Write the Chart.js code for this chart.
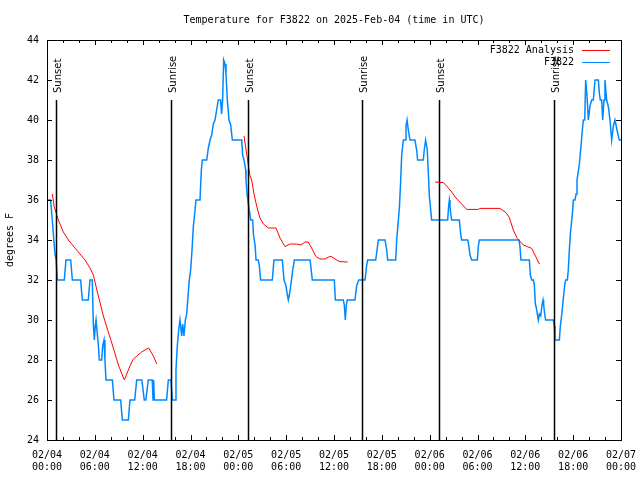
<!DOCTYPE html>
<html>
<head>
<meta charset="utf-8">
<script src="https://cdn.jsdelivr.net/npm/chart.js@4/dist/chart.umd.min.js"></script>
<style>
  html, body { margin: 0; padding: 0; background: #fff; }
  canvas { display: block; }
</style>
</head>
<body>
<canvas id="tempChart" width="640" height="480"></canvas>
<script>
// hours since 02/04 00:00 UTC
const obsHours = [0, 0.45, 0.6, 0.8, 1.0, 1.15, 1.3, 2.17, 2.38, 2.97, 3.18, 4.22, 4.43, 5.18, 5.39, 5.68, 5.81, 5.94, 6.05, 6.15,
  6.31, 6.44, 6.56, 6.86, 6.98, 7.15, 7.27, 7.4, 8.2, 8.4, 9.24, 9.45, 10.2, 10.41, 11.0, 11.25, 11.9, 12.2, 12.4, 12.7,
  13.2, 13.3, 13.38, 13.46, 15.0, 15.22, 15.55, 15.72, 16.06, 16.18, 16.35, 16.52, 16.68, 16.89, 17.02, 17.18, 17.35, 17.52, 17.69, 17.85,
  18.02, 18.19, 18.36, 18.52, 18.69, 19.19, 19.36, 19.49, 20.03, 20.24, 20.45, 20.66, 20.86, 21.07, 21.28, 21.49, 21.78, 21.9, 22.03, 22.16,
  22.33, 22.45, 22.62, 22.83, 23.04, 23.25, 24.42, 24.54, 24.71, 24.92, 24.96, 25.1, 25.25, 25.45, 25.55, 25.8, 25.89, 26.1, 26.22, 26.5,
  26.63, 26.8, 28.26, 28.47, 29.52, 29.73, 29.98, 30.15, 30.27, 30.4, 30.57, 30.82, 31.03, 33.0, 33.28, 36.04, 36.17, 37.17, 37.29, 37.42,
  37.54, 37.67, 38.63, 38.84, 39.1, 39.89, 40.1, 40.22, 41.23, 41.4, 41.56, 42.4, 42.61, 42.73, 43.74, 43.86, 43.99, 44.2, 44.37, 44.49,
  44.7, 44.91, 45.03, 45.16, 45.32, 45.53, 46.15, 46.37, 46.49, 47.2, 47.32, 47.49, 47.7, 47.87, 47.96, 48.13, 48.25, 50.26, 50.38, 50.47,
  50.55, 50.64, 50.76, 51.72, 51.89, 52.01, 52.77, 52.93, 53.06, 53.27, 53.98, 54.1, 54.23, 59.2, 59.33, 59.45, 60.5, 60.63, 60.8, 61.0,
  61.13, 61.26, 61.38, 61.5, 61.63, 61.76, 61.93, 62.09, 62.22, 62.3, 62.43, 62.55, 63.51, 63.64, 63.72, 64.27, 64.39, 64.56, 64.69, 64.81,
  64.94, 65.06, 65.27, 65.39, 65.52, 65.65, 65.77, 65.9, 66.02, 66.23, 66.36, 66.48, 66.78, 66.99, 67.15, 67.28, 67.45, 67.57, 67.74, 67.9,
  68.11, 68.32, 68.53, 68.74, 69.16, 69.29, 69.41, 69.58, 69.7, 69.87, 69.99, 70.2, 70.4, 70.62, 70.83, 71.04, 71.24, 71.45, 71.66, 71.79, 72];
const obsTemps = [36, 36, 35.3, 34.3, 33.3, 33, 32, 32, 33, 33, 32, 32, 31, 31, 32, 32, 29.8, 29, 29.7, 30,
  29.3, 28.75, 28, 28, 28.7, 29, 28, 27, 27, 26, 26, 25, 25, 26, 26, 27, 27, 26, 26, 27,
  27, 26, 27, 26, 26, 27, 27, 26, 26, 27.5, 28.75, 29.5, 30, 29.2, 29.8, 29.2, 30, 30.3, 31.2, 32,
  32.5, 33.5, 34.7, 35.3, 36, 36, 37.5, 38, 38, 38.6, 39, 39.25, 39.8, 40, 40.5, 41, 41, 40.3, 41, 43,
  42.8, 42.3, 41, 40, 39.75, 39, 39, 38.25, 38, 37.5, 37, 36.3, 35.8, 35.3, 35, 35, 34.3, 33.75, 33, 33,
  32.75, 32, 32, 33, 33, 32, 31.7, 31.25, 31, 31.25, 31.7, 32.5, 33, 33, 32, 32, 31, 31, 30.75, 30,
  30.75, 31, 31, 31.7, 32, 32, 32.75, 33, 33, 33.5, 34, 34, 33.5, 33, 33, 34, 34.6, 35.6, 37, 38.25,
  39, 39, 39.7, 40, 39.5, 39, 39, 38.5, 38, 38, 38.5, 39, 38.5, 37, 36.2, 35.5, 35, 35, 35.7, 36,
  35.7, 35.3, 35, 35, 34.3, 34, 34, 33.67, 33.25, 33, 33, 33.67, 34, 34, 33.67, 33, 33, 32.25, 32, 32,
  31.75, 30.8, 30.6, 30.3, 30, 30.3, 30.2, 30.75, 31, 30.75, 30.3, 30, 30, 29.7, 29, 29, 29.7, 30.25, 30.75, 31.25,
  31.75, 32, 32, 32.5, 33.5, 34.3, 34.8, 35.3, 36, 36, 36.3, 37, 37.8, 38.75, 39.5, 40, 40, 42, 41.2, 40,
  40.7, 41, 41, 42, 42, 41.3, 41, 41, 40, 41, 42, 41, 40.7, 40, 39, 39.7, 40, 39.6, 39.2, 39, 39];

// analysis runs (null = gap between runs)
const anaHours = [0.67, 0.9, 1.42, 2.05, 2.68, 3.51, 4.14, 4.77, 5.39, 5.81, 6.44, 7.07, 7.69, 8.32, 8.95, 9.7, 10.2, 10.75, 11.25, 11.87,
  12.29, 12.75, 13.34, 13.76, 20,
  24.71, 25.05, 25.46, 25.67, 25.97, 26.3, 26.71, 27.14, 27.76, 28.73, 29.23, 29.85, 30.48, 31.3, 31.86, 32.36, 32.77, 33.19, 33.74, 34.24,
  34.87, 35.41, 35.7, 36.33, 36.75, 37.71, 44,
  48.67, 49.72, 50.13, 50.76, 51.3, 52.01, 52.64, 54.1, 54.31, 56.82, 57.57, 57.99, 58.49, 58.99, 59.75, 60.25, 60.8, 61.21, 61.76];
const anaTemps = [36.3, 35.67, 35, 34.4, 34, 33.6, 33.3, 33.0, 32.6, 32.25, 31.2, 30.2, 29.4, 28.6, 27.75, 27, 27.5, 28, 28.2, 28.4,
  28.5, 28.6, 28.2, 27.8, null,
  39.2, 38.3, 37.2, 37, 36.3, 35.7, 35.1, 34.8, 34.6, 34.6, 34.1, 33.67, 33.8, 33.8, 33.75, 33.9, 33.9, 33.6, 33.17, 33.05,
  33.05, 33.17, 33.17, 33, 32.92, 32.9, null,
  36.9, 36.87, 36.7, 36.4, 36.1, 35.8, 35.53, 35.53, 35.58, 35.58, 35.37, 35.13, 34.5, 34.08, 33.75, 33.67, 33.58, 33.25, 32.8];

const sunHours = [1.13, 15.6, 25.26, 39.56, 49.2, 63.65];
const sunLabels = ['Sunset', 'Sunrise', 'Sunset', 'Sunrise', 'Sunset', 'Sunrise'];

const dayLabels = ['02/04', '02/05', '02/06', '02/07'];
const hourLabels = ['00:00', '06:00', '12:00', '18:00'];

const MONO = "'DejaVu Sans Mono', monospace";

function toPoints(xs, ys) {
  return xs.map((x, i) => ({ x: x, y: ys[i] }));
}

// gnuplot look: frame, inward ticks on all sides, sun lines, title, legend
const gnuFrame = {
  id: 'gnuFrame',
  afterDatasetsDraw(chart) {
    const { ctx, chartArea: a, scales: { x, y } } = chart;
    ctx.save();
    ctx.strokeStyle = '#000';
    ctx.lineWidth = 1;
    ctx.strokeRect(a.left + 0.5, a.top + 0.5, a.right - a.left, a.bottom - a.top);

    ctx.beginPath();
    x.ticks.forEach(t => {
      const px = Math.round(x.getPixelForValue(t.value)) + 0.5;
      const len = t.value % 6 === 0 ? 5 : 3;
      ctx.moveTo(px, a.bottom); ctx.lineTo(px, a.bottom - len);
      ctx.moveTo(px, a.top); ctx.lineTo(px, a.top + len);
    });
    y.ticks.forEach(t => {
      const py = Math.round(y.getPixelForValue(t.value)) + 0.5;
      ctx.moveTo(a.left, py); ctx.lineTo(a.left + 5, py);
      ctx.moveTo(a.right, py); ctx.lineTo(a.right - 5, py);
    });
    ctx.stroke();

    // sunrise / sunset markers
    ctx.lineWidth = 1.5;
    ctx.fillStyle = '#000';
    ctx.font = "10px 'DejaVu Sans', sans-serif";
    sunHours.forEach((h, i) => {
      const px = Math.round(x.getPixelForValue(h)) + 0.5;
      const top = y.getPixelForValue(41);
      ctx.beginPath();
      ctx.moveTo(px, top);
      ctx.lineTo(px, a.bottom);
      ctx.stroke();
      ctx.save();
      ctx.translate(px + 1.5, top - 7);
      ctx.rotate(-Math.PI / 2);
      ctx.textAlign = 'left';
      ctx.textBaseline = 'middle';
      ctx.fillText(sunLabels[i], 0, 0);
      ctx.restore();
    });

    // title
    ctx.font = '10px ' + MONO;
    ctx.textAlign = 'center';
    ctx.textBaseline = 'middle';
    ctx.fillText('Temperature for F3822 on 2025-Feb-04 (time in UTC)', (a.left + a.right) / 2, 20);

    // legend
    ctx.textAlign = 'right';
    chart.data.datasets.forEach((ds, i) => {
      const ly = 50 + i * 12;
      ctx.fillStyle = '#000';
      ctx.fillText(ds.label, 574, ly);
      ctx.strokeStyle = ds.borderColor;
      ctx.lineWidth = 1;
      ctx.beginPath();
      ctx.moveTo(582, ly + 0.5);
      ctx.lineTo(610, ly + 0.5);
      ctx.stroke();
    });
    ctx.restore();
  }
};

new Chart(document.getElementById('tempChart').getContext('2d'), {
  type: 'line',
  data: {
    datasets: [{
      label: 'F3822 Analysis',
      data: toPoints(anaHours, anaTemps),
      borderColor: '#ff0000',
      borderWidth: 1,
      pointRadius: 0,
      tension: 0,
      spanGaps: false
    }, {
      label: 'F3822',
      data: toPoints(obsHours, obsTemps),
      borderColor: '#0088ff',
      borderWidth: 1.5,
      pointRadius: 0,
      tension: 0
    }]
  },
  options: {
    responsive: false,
    animation: false,
    layout: { padding: { top: 40, right: 19, left: 0, bottom: 0 } },
    plugins: {
      legend: { display: false },
      title: { display: false },
      tooltip: { enabled: false }
    },
    scales: {
      x: {
        type: 'linear',
        min: 0,
        max: 72,
        grid: { display: false, drawTicks: false },
        border: { display: false },
        ticks: {
          stepSize: 2,
          autoSkip: false,
          maxRotation: 0,
          padding: 9,
          color: '#000',
          font: { family: MONO, size: 10 },
          callback: (v) => v % 6 === 0 ? [dayLabels[Math.floor(v / 24)], hourLabels[(v % 24) / 6]] : ''
        },
        afterFit: (s) => { s.height = 40; s.paddingLeft = 0; s.paddingRight = 0; }
      },
      y: {
        min: 24,
        max: 44,
        grid: { display: false, drawTicks: false },
        border: { display: false },
        ticks: {
          stepSize: 2,
          padding: 8,
          color: '#000',
          font: { family: MONO, size: 10 }
        },
        title: {
          display: true,
          text: 'degrees F',
          color: '#000',
          font: { family: MONO, size: 10 },
          padding: { top: 4, bottom: 0 }
        },
        afterFit: (s) => { s.width = 47; s.paddingTop = 0; s.paddingBottom = 0; }
      }
    }
  },
  plugins: [gnuFrame]
});
</script>
</body>
</html>
